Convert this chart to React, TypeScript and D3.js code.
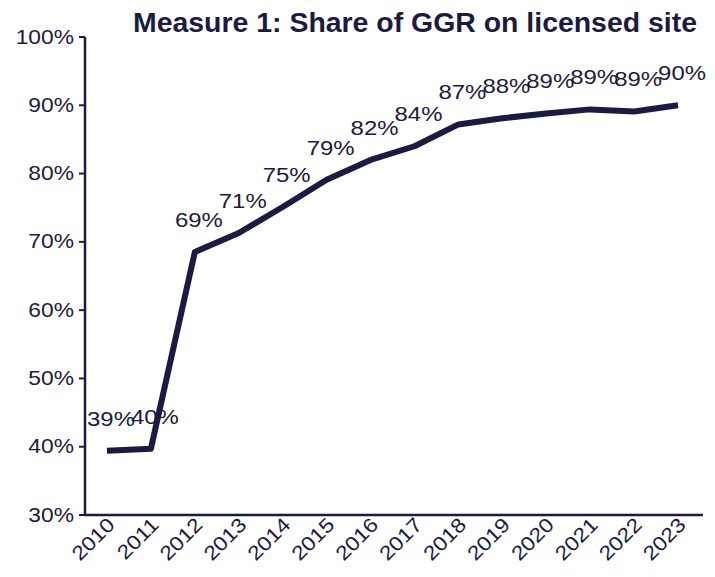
import React from "react";
import * as d3 from "d3";

const years = ["2010","2011","2012","2013","2014","2015","2016","2017","2018","2019","2020","2021","2022","2023"];
const shares = [39.4, 39.7, 68.5, 71.3, 75.1, 79.1, 82.0, 84.0, 87.2, 88.1, 88.8, 89.4, 89.1, 90.0];
const shareLabels = ["39%","40%","69%","71%","75%","79%","82%","84%","87%","88%","89%","89%","89%","90%"];
const yTicks = [30, 40, 50, 60, 70, 80, 90, 100];
const title = "Measure 1: Share of GGR on licensed site";

const W = 715, H = 577;
const C = "#1b1a43";
const FONT = "Liberation Sans, Arial, sans-serif";

export default function App() {
  const x = d3.scaleBand<string>().domain(years).range([85, 700]);
  const y = d3.scaleLinear().domain([30, 100]).range([515, 37]);
  const cx = (d: string) => (x(d) as number) + x.bandwidth() / 2;
  const line = d3.line<number>().x((_, i) => cx(years[i])).y((v) => y(v));
  const sx = 1.14;
  return (
    <svg width={W} height={H} style={{ position: "absolute", left: 0, top: 0, background: "#fff" }} fontFamily={FONT}>
      <text x={133} y={32} fontSize={27} fontWeight="bold" fill={C} textLength={564} lengthAdjust="spacingAndGlyphs">{title}</text>
      {/* y axis */}
      <line x1={85} x2={85} y1={y(100)} y2={y(30)} stroke={C} strokeWidth={2.5} />
      {yTicks.map((t) => (
        <g key={t}>
          <line x1={79} x2={85} y1={y(t)} y2={y(t)} stroke={C} strokeWidth={2} />
          <text transform={`translate(74,${y(t) + 6.5}) scale(${sx},1)`} textAnchor="end" fontSize={20} fill={C}>{t}%</text>
        </g>
      ))}
      {/* x axis */}
      <line x1={84} x2={703} y1={y(30)} y2={y(30)} stroke={C} strokeWidth={2.5} />
      {years.map((yr) => (
        <text key={yr} transform={`translate(${cx(yr) + 9},${526}) rotate(-45) scale(${sx},1)`} textAnchor="end" fontSize={20} fill={C}>{yr}</text>
      ))}
      <path d={line(shares) || ""} fill="none" stroke={C} strokeWidth={6} strokeLinejoin="round" />
      {shares.map((v, i) => (
        <text key={i} transform={`translate(${cx(years[i]) + 4},${y(v) - 25}) scale(${sx},1)`} textAnchor="middle" fontSize={21} fill={C}>{shareLabels[i]}</text>
      ))}
    </svg>
  );
}
